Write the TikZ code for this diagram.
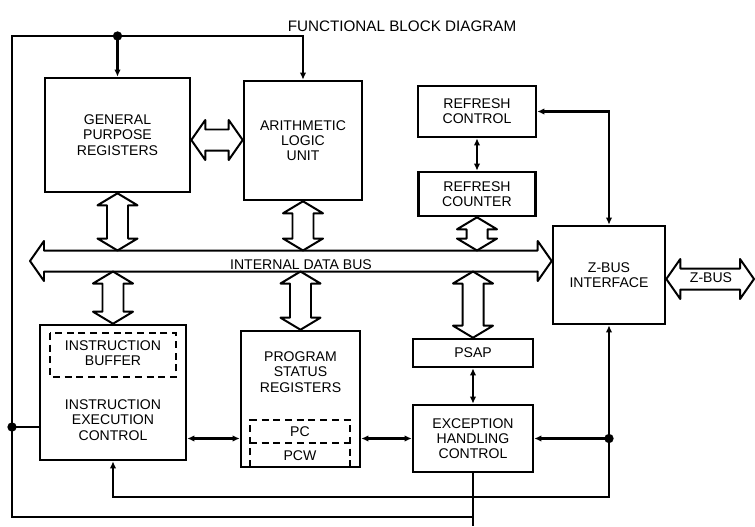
\documentclass[tikz,border=0pt]{standalone}
\usepackage{fontspec}
\setmainfont{Liberation Sans}
\usetikzlibrary{positioning,calc,arrows.meta}
% fat two-headed bus arrows, #1 top/left end, #2 bottom/right end
\newcommand{\fatv}[2]{%
  \draw[fatarrow] #1 -- ++(20,12) -- ++(-9.5,0) -- ($#2+(10.5,-12)$) -- ++(9.5,0)
    -- #2 -- ++(-20,-12) -- ++(9.5,0) -- ($#1+(-10.5,12)$) -- ++(-9.5,0) -- cycle;
}
\newcommand{\fath}[2]{%
  \draw[fatarrow] #1 -- ++(14,-20) -- ++(0,9.5) -- ($#2+(-14,-10.5)$) -- ++(0,-9.5)
    -- #2 -- ++(-14,20) -- ++(0,-9.5) -- ($#1+(14,10.5)$) -- ++(0,9.5) -- cycle;
}
\tikzset{
  blk/.style={draw,line width=2.2pt,inner sep=0pt,align=center,
              font=\fontsize{12}{13}\selectfont},
  txt/.style={align=center,inner sep=0pt,font=\fontsize{12}{13}\selectfont},
  wire/.style={line width=1.9pt,>={Latex[length=6pt,width=5.5pt]}},
  fatarrow/.style={draw,line width=1.7pt,fill=white,line join=round},
  dashbox/.style={line width=1.8pt,dash pattern=on 6pt off 4pt},
  joint/.style={circle,fill,inner sep=0pt,minimum size=2.8mm},
}
\begin{document}
\begin{tikzpicture}[x=0.03cm,y=-0.03cm]
  \useasboundingbox (0,0) rectangle (755,526);
  \node[font=\fontsize{13}{15}\selectfont] (title) at (402,26) {FUNCTIONAL BLOCK DIAGRAM};

  % blocks
  \node[blk,minimum width=4.35cm,minimum height=3.42cm] (gpr) at (117.5,135)
       {GENERAL\\PURPOSE\\REGISTERS};
  \node[blk,minimum width=3.54cm,minimum height=3.57cm] (alu) at (303,140.5)
       {ARITHMETIC\\LOGIC\\UNIT};
  \node[blk,minimum width=3.54cm,minimum height=1.53cm] (rc) at (477,111.5)
       {REFRESH\\CONTROL};
  \node[blk,minimum width=3.51cm,minimum height=1.32cm] (rcnt) at (477,194)
       {REFRESH\\COUNTER};
  \node[blk,minimum width=3.36cm,minimum height=2.94cm] (zbi) at (609,275)
       {Z-BUS\\INTERFACE};
  \node[blk,minimum width=4.38cm,minimum height=4.05cm] (iec) at (113,392.5) {};
  \node[blk,minimum width=3.57cm,minimum height=4.08cm] (psr) at (300.5,399) {};
  \node[blk,minimum width=3.6cm,minimum height=0.84cm] (psap) at (473,353) {PSAP};
  \node[blk,minimum width=3.6cm,minimum height=2.01cm] (ehc) at (473,438.5)
       {EXCEPTION\\HANDLING\\CONTROL};

  % inner parts
  \draw[dashbox] (50,333) rectangle (176,377);
  \node[txt] (ibuf) at (113,353) {INSTRUCTION\\BUFFER};
  \node[txt] (iectxt) at (113,420) {INSTRUCTION\\EXECUTION\\CONTROL};
  \node[txt] (psrtxt) at (300.5,372) {PROGRAM\\STATUS\\REGISTERS};
  \draw[dashbox] (250,467) -- (250,420) -- (350,420) -- (350,467);
  \draw[dashbox] (250,443) -- (350,443);
  \node[txt] (pc) at (300,432) {PC};
  \node[txt] (pcw) at (300,456) {PCW};

  % buses
  \coordinate (busl) at (30,261);
  \coordinate (bustop) at (0,250.5);
  \coordinate (busbot) at (0,271.5);
  \fath{(busl)}{(zbi.west |- busl)}
  \node[txt] (idb) at (301,265) {INTERNAL DATA BUS};
  \fath{(gpr.east |- 0,140)}{(alu.west |- 0,140)}
  \fatv{(gpr.south)}{(gpr.south |- bustop)}
  \fatv{(alu.south)}{(alu.south |- bustop)}
  \fatv{(rcnt.south)}{(rcnt.south |- bustop)}
  \fatv{(iec.north |- busbot)}{(iec.north)}
  \fatv{(psr.north |- busbot)}{(psr.north)}
  \fatv{(psap.north |- busbot)}{(psap.north)}
  \coordinate (zbend) at (754,279);
  \fath{(zbi.east |- zbend)}{(zbend)}
  \node[txt] (zbus) at (711,278) {Z-BUS};

  % control lines
  \coordinate (lt) at (12,36);
  \coordinate (lb) at (12,517);
  \coordinate (ob) at (470,526);
  \coordinate (iecin) at (0,427);
  \coordinate (lowbus) at (0,497);
  \draw[wire] (ehc.south) -- (ehc.south |- ob);
  \draw[wire,->] (ehc.south |- lb) -- (lb) -- (lt) -| (alu.north);
  \draw[wire,->] (gpr.north |- lt) node[joint] {} -- (gpr.north);
  \draw[wire] (lt |- iecin) node[joint] {} -- (iec.west |- iecin);
  \draw[wire,<->] (rc.south) -- (rcnt.north);
  \draw[wire,<->] (rc.east) -| (zbi.north);
  \draw[wire,<->] (zbi.south) -- (zbi.south |- lowbus) -- (iec.south |- lowbus) -- (iec.south);
  \draw[wire,->] (zbi.south |- ehc.east) node[joint] {} -- (ehc.east);
  \draw[wire,<->] (iec.east |- ehc.west) -- (psr.west |- ehc.west);
  \draw[wire,<->] (psr.east |- ehc.west) -- (ehc.west);
  \draw[wire,<->] (psap.south) -- (ehc.north);
\end{tikzpicture}
\end{document}
